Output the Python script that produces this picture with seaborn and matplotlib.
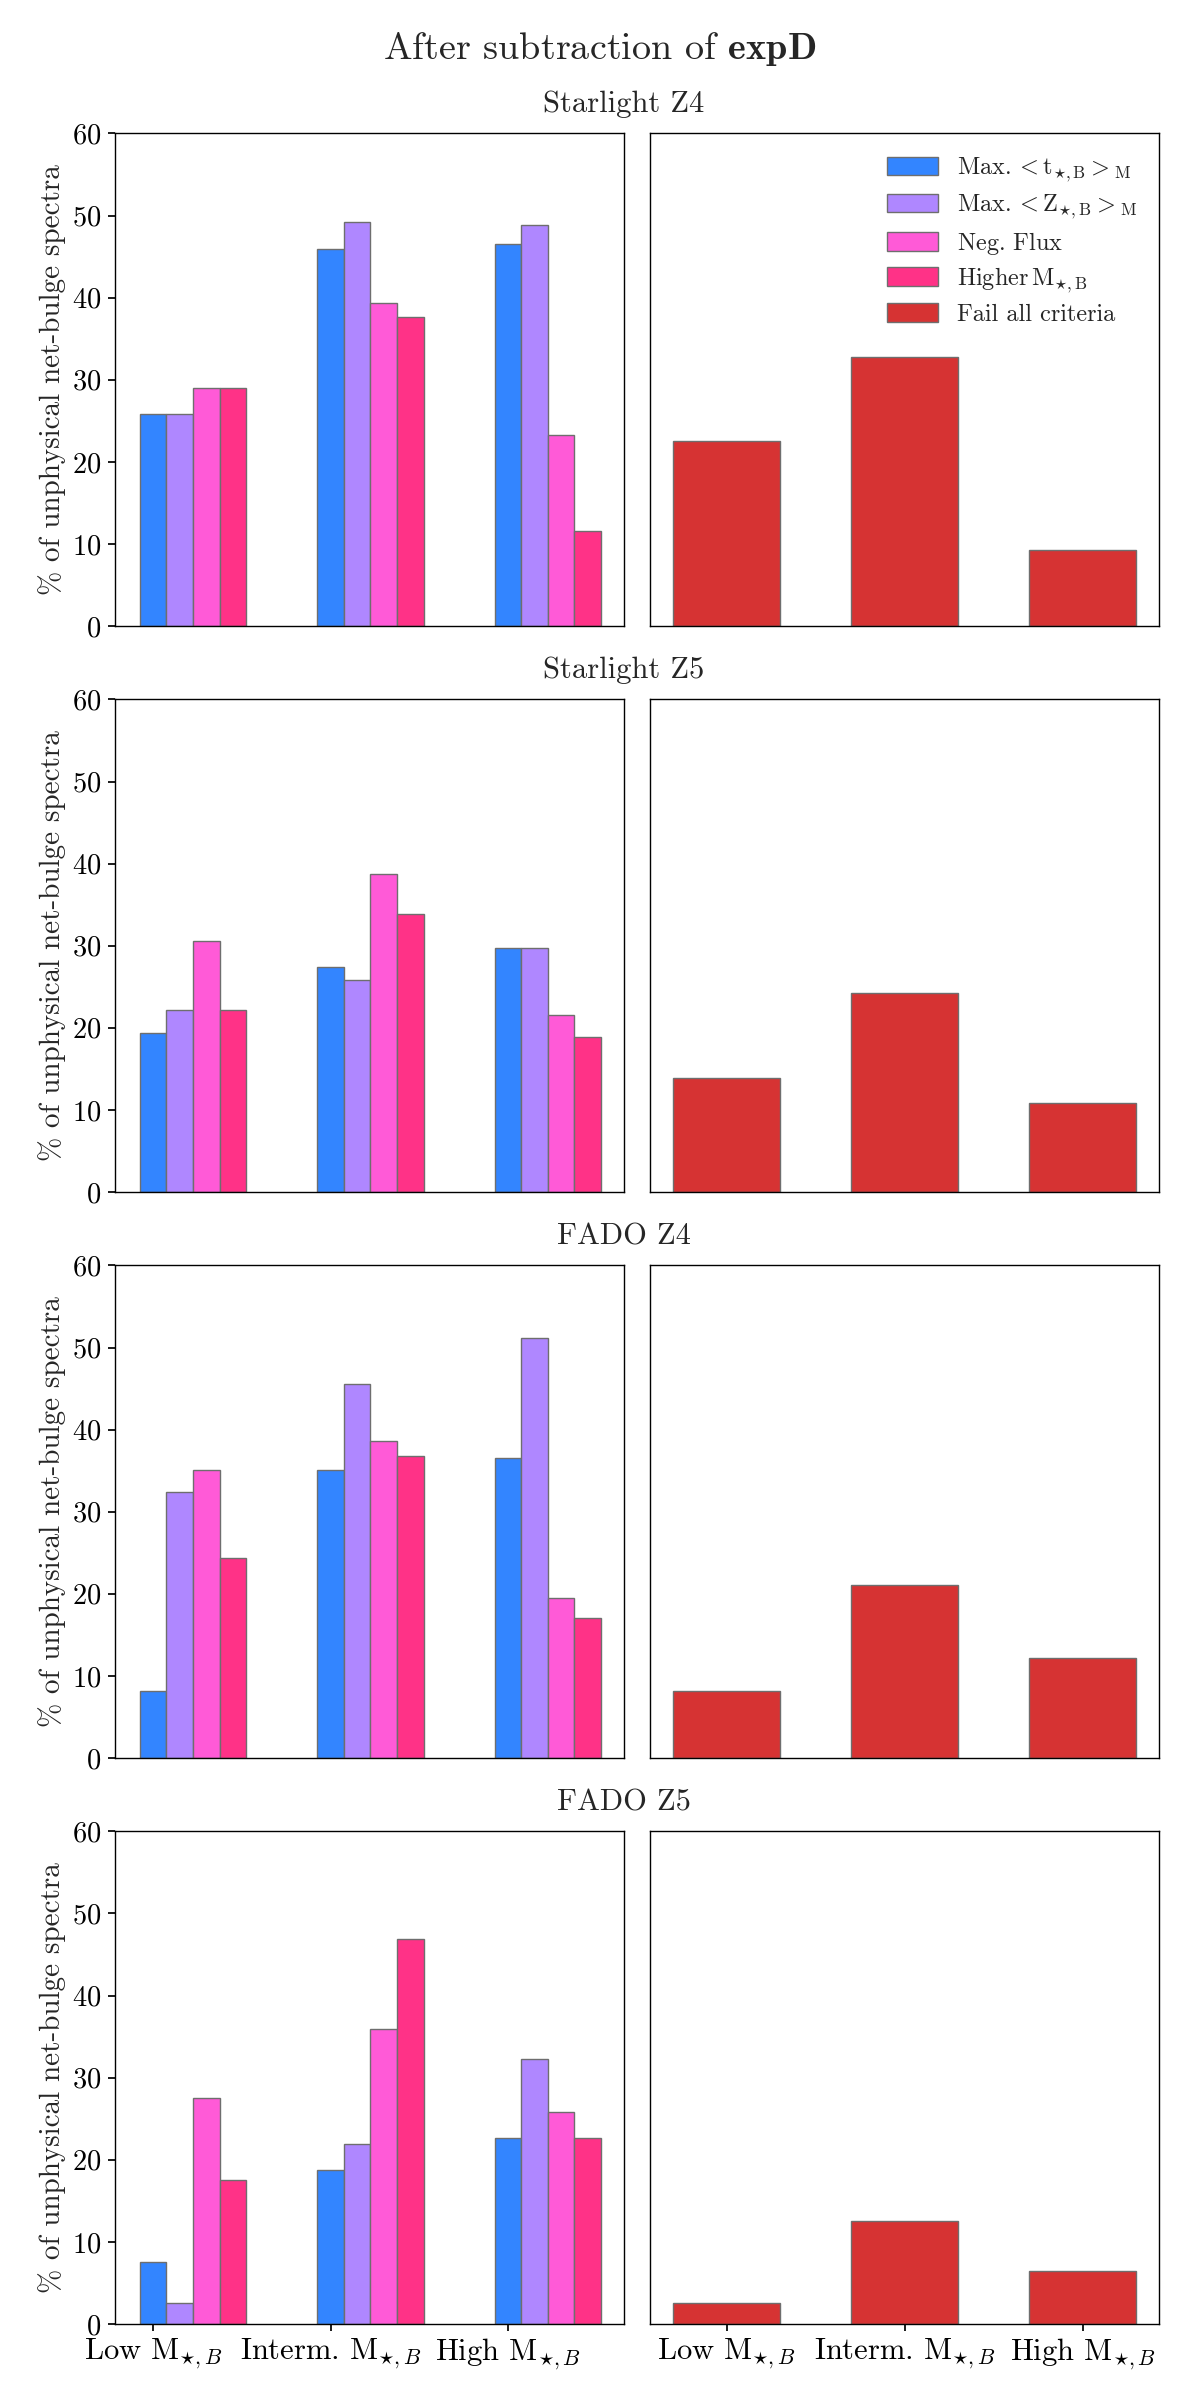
import numpy as np
import pandas as pd
import matplotlib
matplotlib.use("Agg")
import matplotlib.pyplot as plt
import seaborn as sns
from matplotlib.patches import Patch

# data: % of unphysical net-bulge spectra, order Low / Interm. / High
fits = ['Starlight Z4', 'Starlight Z5', 'FADO Z4', 'FADO Z5']
masses = [r'Low M$_{\star,B}$', r'Interm. M$_{\star,B}$', r'High M$_{\star,B}$']
criteria = [r'$\mathrm{Max.} < \mathrm{t}_{\star,\mathrm{B}} >_\mathrm{M}$',
            r'$\mathrm{Max.} < \mathrm{Z}_{\star,\mathrm{B}} >_\mathrm{M}$',
            r'$\mathrm{Neg.\,Flux}$',
            r'$\mathrm{Higher\,M}_{\star,\mathrm{B}}$',
            'Fail all criteria']

max_age = [[25.8, 45.9, 46.5], [19.4, 27.4, 29.7], [8.1, 35.1, 36.6], [7.5, 18.8, 22.6]]
max_met = [[25.8, 49.2, 48.8], [22.2, 25.8, 29.7], [32.4, 45.6, 51.2], [2.5, 21.9, 32.3]]
neg_flux = [[29.0, 39.3, 23.3], [30.6, 38.7, 21.6], [35.1, 38.6, 19.5], [27.5, 35.9, 25.8]]
higher_mass = [[29.0, 37.7, 11.6], [22.2, 33.9, 18.9], [24.3, 36.8, 17.1], [17.5, 46.9, 22.6]]
fail_all = [[22.6, 32.8, 9.3], [13.9, 24.2, 10.8], [8.1, 21.1, 12.2], [2.5, 12.5, 6.5]]

colors = ['#3385ff', '#af87ff', '#ff5ad7', '#ff3287', '#d63333']
edge = '#6e6e6e'

sns.set_theme(style='ticks')
plt.rcParams['font.family'] = 'serif'
plt.rcParams['font.serif'] = ['cmr10']
plt.rcParams['mathtext.fontset'] = 'cm'
plt.rcParams['axes.formatter.use_mathtext'] = True
plt.rcParams['axes.edgecolor'] = 'black'
plt.rcParams['axes.linewidth'] = 1.0
plt.rcParams['xtick.color'] = 'black'
plt.rcParams['ytick.color'] = 'black'

fig, axes = plt.subplots(4, 2, figsize=(12, 24.05), dpi=100, sharey=True)
fig.subplots_adjust(left=0.0958, right=0.966, top=0.9445, bottom=0.0337, wspace=0.051, hspace=0.149)

for r, fit in enumerate(fits):
    rows = []
    for c, vals in enumerate([max_age, max_met, neg_flux, higher_mass]):
        for m in range(3):
            rows.append({'mass': masses[m], 'crit': criteria[c], 'pct': vals[r][m]})
    df = pd.DataFrame(rows)
    df_fail = pd.DataFrame({'mass': masses, 'pct': fail_all[r]})

    ax = axes[r, 0]
    sns.barplot(data=df, x='mass', y='pct', hue='crit', hue_order=criteria[:4], order=masses,
                palette=colors[:4], width=0.6, saturation=1, errorbar=None,
                edgecolor=edge, linewidth=1.0, legend=False, ax=ax)
    ax.set_xlim(-0.44, 2.43)
    ax.set_xticks(np.arange(3) - 0.225)
    ax.set_xticklabels(masses)
    ax.set_ylim(0, 60)
    ax.set_yticks(range(0, 61, 10))
    ax.set_xlabel('')
    ax.set_ylabel('% of unphysical net-bulge spectra', fontsize=21)
    ax.tick_params(axis='y', labelsize=20.5, direction='out', length=5, pad=5)
    ax.tick_params(axis='x', labelsize=22, direction='out', length=5, pad=4)

    ax2 = axes[r, 1]
    sns.barplot(data=df_fail, x='mass', y='pct', order=masses, color=colors[4], width=0.6,
                saturation=1, errorbar=None, edgecolor=edge, linewidth=1.0, ax=ax2)
    ax2.set_xlim(-0.43, 2.43)
    ax2.set_xlabel('')
    ax2.set_ylabel('')
    ax2.tick_params(axis='y', left=False, labelleft=False)
    ax2.tick_params(axis='x', labelsize=22, direction='out', length=5, pad=4)

    for a in (ax, ax2):
        for s in a.spines.values():
            s.set_visible(True)
            s.set_color('black')
        if r < 3:
            a.tick_params(axis='x', bottom=False, labelbottom=False)

    top = ax.get_position().y1
    fig.text(0.52, top + 29 / 2405, fit, ha='center', va='center', fontsize=22)

handles = [Patch(facecolor=colors[i], edgecolor=edge, linewidth=1.0, label=criteria[i]) for i in range(5)]
axes[0, 1].legend(handles=handles, loc='upper right', frameon=False, fontsize=17.5,
                  handlelength=2.1, handleheight=0.8, labelspacing=0.35)

fig.suptitle(r'After subtraction of $\mathbf{expD}$', y=1 - 49 / 2405, va='center', fontsize=27.5)

fig.savefig('out.png', dpi=100)
